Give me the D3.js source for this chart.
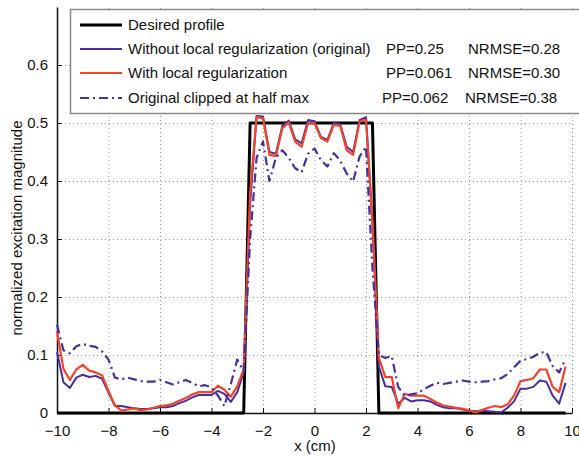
<!DOCTYPE html>
<html>
<head>
<meta charset="utf-8">
<script src="https://cdn.jsdelivr.net/npm/d3@7"></script>
<style>
  body { margin: 0; background: #fff; }
  svg { display: block; font-family: "Liberation Sans", Arial, sans-serif; }
</style>
</head>
<body>
<svg id="chart"></svg>
<script>
// sampling positions (cm), step 0.25 from -10 to 9.75
const xPos = d3.range(80).map(i => -10 + i * 0.25)

// desired rect profile
const desired = [
  0,0,0,0,0,0,0,0, 0,0,0,0,0,0,0,0, 0,0,0,0,0,0,0,0,
  0,0,0,0,0,0,0.5,0.5,
  0.5,0.5,0.5,0.5,0.5,0.5,0.5,0.5,
  0.5,0.5,0.5,0.5,0.5,0.5,0.5,0.5,
  0.5,0.5,0,0,0,0,0,0,
  0,0,0,0,0,0,0,0, 0,0,0,0,0,0,0,0, 0,0,0,0,0,0,0,0
]

// without local regularization (original)
const original = [
  0.105,0.053,0.043,0.061,0.066,0.062,0.064,0.059,
  0.035,0.012,0.012,0.010,0.008,0.007,0.007,0.008,
  0.010,0.010,0.012,0.017,0.021,0.027,0.031,0.031,
  0.031,0.038,0.033,0.019,0.036,0.070,0.360,0.512,
  0.511,0.450,0.447,0.495,0.504,0.472,0.465,0.505,
  0.503,0.476,0.471,0.500,0.498,0.459,0.450,0.505,
  0.510,0.330,0.080,0.046,0.045,0.016,0.026,0.020,
  0.022,0.022,0.020,0.014,0.010,0.008,0.008,0.006,
  0.004,0.003,0.004,0.003,0.002,0.001,0.009,0.020,
  0.042,0.042,0.045,0.056,0.054,0.030,0.016,0.052
]

// with local regularization
const localReg = [
  0.140,0.076,0.057,0.075,0.083,0.073,0.070,0.065,
  0.038,0.013,0.004,0.006,0.008,0.005,0.006,0.009,
  0.012,0.013,0.016,0.021,0.026,0.032,0.036,0.036,
  0.036,0.047,0.040,0.028,0.046,0.075,0.380,0.510,
  0.508,0.445,0.443,0.491,0.501,0.468,0.459,0.500,
  0.500,0.474,0.468,0.497,0.495,0.453,0.445,0.502,
  0.506,0.330,0.095,0.062,0.062,0.008,0.033,0.030,
  0.030,0.030,0.024,0.018,0.013,0.011,0.009,0.007,
  0.005,0.001,0.005,0.009,0.012,0.010,0.015,0.030,
  0.055,0.057,0.060,0.075,0.075,0.045,0.036,0.080
]

// original clipped at half max
const clipped = [
  0.152,0.108,0.103,0.115,0.119,0.116,0.114,0.106,
  0.092,0.061,0.058,0.061,0.058,0.055,0.054,0.054,
  0.057,0.053,0.049,0.053,0.057,0.052,0.046,0.048,
  0.044,0.030,0.012,0.050,0.092,0.072,0.300,0.440,
  0.468,0.400,0.440,0.453,0.440,0.422,0.415,0.447,
  0.456,0.436,0.425,0.448,0.435,0.413,0.399,0.442,
  0.459,0.250,0.100,0.095,0.098,0.045,0.030,0.032,
  0.034,0.041,0.047,0.052,0.050,0.052,0.054,0.056,
  0.054,0.053,0.054,0.055,0.058,0.060,0.067,0.079,
  0.090,0.093,0.097,0.104,0.105,0.081,0.070,0.093
]

const xTicks = [-10, -8, -6, -4, -2, 0, 2, 4, 6, 8, 10]
const yTicks = [0, 0.1, 0.2, 0.3, 0.4, 0.5, 0.6]

const legendNames = ['Desired profile', 'Without local regularization (original)',
                     'With local regularization', 'Original clipped at half max']
const ppText = ['', 'PP=0.25', 'PP=0.061', 'PP=0.062']
const nrmseText = ['', 'NRMSE=0.28', 'NRMSE=0.30', 'NRMSE=0.38']

const width = 579, height = 456
const margin = {top: 7, right: 7, bottom: 43, left: 57}

const svg = d3.select('#chart').attr('width', width).attr('height', height)

const xScale = d3.scaleLinear().domain([-10, 10]).range([margin.left, width - margin.right])
const yScale = d3.scaleLinear().domain([0, 0.7]).range([height - margin.bottom, margin.top])

/* grid */
const grid = svg.append('g').attr('stroke', '#9a9a9a').attr('stroke-width', 1)
                .attr('stroke-dasharray', '1,3')
grid.selectAll('.vg').data(xTicks).enter().append('line')
    .attr('x1', d => xScale(d) + 0.5).attr('x2', d => xScale(d) + 0.5)
    .attr('y1', yScale(0)).attr('y2', margin.top)
grid.selectAll('.hg').data(yTicks.slice(1)).enter().append('line')
    .attr('y1', d => Math.round(yScale(d)) + 0.5).attr('y2', d => Math.round(yScale(d)) + 0.5)
    .attr('x1', xScale(-10)).attr('x2', xScale(10))

/* axes, ticks inward like matlab */
const xAxis = d3.axisBottom(xScale).tickValues(xTicks).tickSizeInner(-5).tickSizeOuter(0)
                .tickPadding(12).tickFormat(d3.format('d'))
const yAxis = d3.axisLeft(yScale).tickValues(yTicks).tickSizeInner(-5).tickSizeOuter(0)
                .tickPadding(9).tickFormat(d => d === 0 ? '0' : d3.format('.1f')(d))

const gx = svg.append('g').attr('transform', 'translate(0,' + yScale(0) + ')').call(xAxis)
const gy = svg.append('g').attr('transform', 'translate(' + margin.left + ',0)').call(yAxis)
;[gx, gy].forEach(g => {
  g.select('.domain').attr('stroke', '#111').attr('stroke-width', 1.5)
  g.selectAll('.tick line').attr('stroke', '#111')
  g.selectAll('text').attr('font-size', 15).attr('fill', '#111')
    .style('font-family', '"Liberation Sans", Arial, sans-serif')
})

/* axis titles */
svg.append('text').attr('x', 315).attr('y', 451).attr('text-anchor', 'middle')
   .attr('font-size', 15).attr('fill', '#111').text('x (cm)')
svg.append('text').attr('transform', 'translate(22,228) rotate(-90)')
   .attr('text-anchor', 'middle').attr('font-size', 15).attr('fill', '#111')
   .text('normalized excitation magnitude')

/* curves */
const line = d3.line().x((d, i) => xScale(xPos[i])).y(d => yScale(d))
const series = [
  {data: desired, color: '#000000', w: 3, dash: null},
  {data: original, color: '#4a2ea0', w: 2, dash: null},
  {data: localReg, color: '#f5432a', w: 2.2, dash: null},
  {data: clipped, color: '#4a2ea0', w: 2.2, dash: '9,4,2,4'}
]
series.forEach(s => {
  svg.append('path').datum(s.data).attr('d', line)
     .attr('fill', 'none').attr('stroke', s.color).attr('stroke-width', s.w)
     .attr('stroke-linejoin', 'round')
     .attr('stroke-dasharray', s.dash)
})

/* legend */
const leg = svg.append('g')
leg.append('rect').attr('x', 70.5).attr('y', 9.5).attr('width', 530).attr('height', 104)
   .attr('fill', '#fff').attr('stroke', '#8a8a8a').attr('stroke-width', 1.5)
const rowY = [25, 49, 73, 98]
const ppX = [0, 386, 386, 382]
const nrX = [0, 468, 468, 465]
legendNames.forEach((name, i) => {
  leg.append('line').attr('x1', 80).attr('x2', 122).attr('y1', rowY[i]).attr('y2', rowY[i])
     .attr('stroke', series[i].color).attr('stroke-width', series[i].w)
     .attr('stroke-dasharray', series[i].dash)
  leg.append('text').attr('x', 128).attr('y', rowY[i] + 5).attr('font-size', 15)
     .attr('fill', '#111').text(name)
  if (ppText[i]) {
    leg.append('text').attr('x', ppX[i]).attr('y', rowY[i] + 5).attr('font-size', 15)
       .attr('fill', '#111').text(ppText[i])
    leg.append('text').attr('x', nrX[i]).attr('y', rowY[i] + 5).attr('font-size', 15)
       .attr('fill', '#111').text(nrmseText[i])
  }
})
</script>
</body>
</html>
